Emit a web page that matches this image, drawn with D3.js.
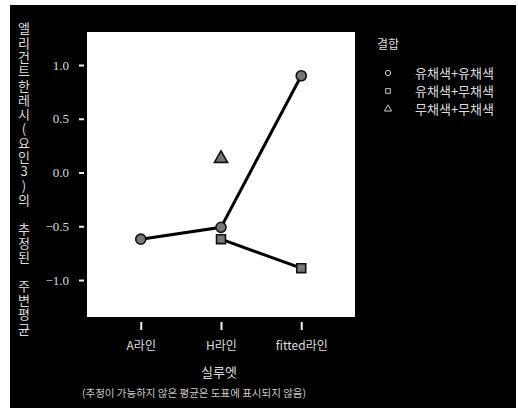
<!DOCTYPE html>
<html>
<head>
<meta charset="utf-8">
<script src="https://cdn.jsdelivr.net/npm/d3@7"></script>
<style>
  body { margin: 0; background: #fff; }
</style>
</head>
<body>
<div id="chart"></div>
<script>
// categories on the x axis
var lines = ["A라인", "H라인", "fitted라인"];
// series names (legend order)
var groups = ["유채색+유채색", "유채색+무채색", "무채색+무채색"];
var shapes = ["circle", "square", "triangle"];
// estimated marginal means, null = not estimable
var vivid_vivid = [-0.62, -0.51, 0.90];
var vivid_achro = [null, -0.62, -0.89];
var achro_achro = [null, 0.13, null];
var yTicks = [1.0, 0.5, 0.0, -0.5, -1.0];

var width = 518, height = 408;

var svg = d3.select("#chart")
    .append("svg")
    .attr("width", width)
    .attr("height", height);

// black scanned frame
svg.append("rect")
    .attr("x", 10).attr("y", 5)
    .attr("width", 506).attr("height", 403)
    .attr("fill", "#000");

var plot = {left: 87, top: 32, right: 355, bottom: 317};

svg.append("rect")
    .attr("x", plot.left).attr("y", plot.top)
    .attr("width", plot.right - plot.left)
    .attr("height", plot.bottom - plot.top)
    .attr("fill", "#fff");

var x = d3.scalePoint()
    .domain(lines)
    .range([plot.left, plot.right])
    .padding(0.67);

var y = d3.scaleLinear()
    .domain([-1.344, 1.307])
    .range([plot.bottom, plot.top]);

// y axis
var yAxis = svg.append("g")
    .attr("transform", "translate(" + (plot.left - 3) + ",0)")
    .call(d3.axisLeft(y).tickValues(yTicks).tickSize(5).tickPadding(10)
        .tickFormat(d3.format(".1f")));
yAxis.select(".domain").remove();
yAxis.selectAll("line").attr("stroke", "#eee").attr("stroke-width", 2);
yAxis.selectAll("text")
    .style("font-family", "'Liberation Serif', 'DejaVu Serif', serif")
    .style("font-size", "13px")
    .attr("fill", "#ddd");

// x axis
var xAxis = svg.append("g")
    .attr("transform", "translate(0," + (plot.bottom + 5) + ")")
    .call(d3.axisBottom(x).tickSize(8).tickPadding(11));
xAxis.select(".domain").remove();
xAxis.selectAll("line").attr("stroke", "#eee").attr("stroke-width", 2);
xAxis.selectAll("text")
    .style("font-family", "'Noto Sans CJK KR', sans-serif")
    .style("font-size", "12px")
    .attr("fill", "#ddd");

// series
var series = [vivid_vivid, vivid_achro, achro_achro].map(function(vals, i) {
    return {name: groups[i], shape: shapes[i],
            points: vals.map(function(v, j) { return {cat: lines[j], v: v}; })
                        .filter(function(p) { return p.v !== null; })};
});

var line = d3.line()
    .x(function(d) { return x(d.cat); })
    .y(function(d) { return y(d.v); });

series.forEach(function(s) {
    if (s.points.length > 1) {
        svg.append("path")
            .datum(s.points)
            .attr("d", line)
            .attr("fill", "none")
            .attr("stroke", "#000")
            .attr("stroke-width", 3);
    }
});

var symbolType = {circle: d3.symbolCircle, square: d3.symbolSquare, triangle: d3.symbolTriangle};
var symbolSize = {circle: 80, square: 80, triangle: 75};

series.forEach(function(s) {
    svg.selectAll(null)
        .data(s.points)
        .enter()
        .append("path")
        .attr("transform", function(d) {
            return "translate(" + x(d.cat) + "," + y(d.v) + ")";
        })
        .attr("d", d3.symbol().type(symbolType[s.shape]).size(symbolSize[s.shape]))
        .attr("fill", "#777")
        .attr("stroke", "#111")
        .attr("stroke-width", 1.6);
});

// legend
var legend = svg.append("g");
legend.append("text")
    .attr("x", 377).attr("y", 49)
    .attr("font-family", "Noto Sans CJK KR, sans-serif")
    .attr("font-size", "12px")
    .attr("fill", "#ddd")
    .text("결합");

var rows = legend.selectAll("g.row")
    .data(series)
    .enter()
    .append("g")
    .attr("transform", function(d, i) { return "translate(0," + (73 + i * 18) + ")"; });

rows.append("path")
    .attr("transform", "translate(388,0)")
    .attr("d", function(d) { return d3.symbol().type(symbolType[d.shape]).size(22)(); })
    .attr("fill", "none")
    .attr("stroke", "#ccc")
    .attr("stroke-width", 1);

rows.append("text")
    .attr("x", 415).attr("y", 5)
    .attr("font-family", "Noto Sans CJK KR, sans-serif")
    .attr("font-size", "13px")
    .attr("fill", "#ddd")
    .text(function(d) { return d.name; });

// axis titles
svg.append("text")
    .attr("x", 219).attr("y", 377)
    .attr("text-anchor", "middle")
    .attr("font-family", "Noto Sans CJK KR, sans-serif")
    .attr("font-size", "13px")
    .attr("fill", "#ddd")
    .text("실루엣");

svg.append("text")
    .attr("x", 194).attr("y", 397)
    .attr("text-anchor", "middle")
    .attr("font-family", "Noto Sans CJK KR, sans-serif")
    .attr("font-size", "10.5px")
    .attr("fill", "#ccc")
    .text("(추정이 가능하지 않은 평균은 도표에 표시되지 않음)");

svg.append("text")
    .attr("x", 24).attr("y", 22)
    .attr("font-family", "Noto Sans CJK KR, sans-serif")
    .attr("font-size", "13px")
    .attr("fill", "#ddd")
    .style("writing-mode", "vertical-rl")
    .style("text-orientation", "upright")
    .style("letter-spacing", "1.3px")
    .text("엘리건트한레시(요인3)의 추정된 주변평균");
</script>
</body>
</html>
